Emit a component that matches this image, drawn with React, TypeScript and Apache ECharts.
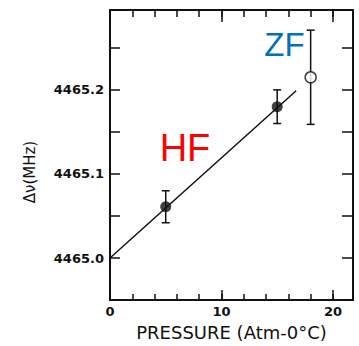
import React, { useEffect, useRef } from "react";
import * as echarts from "echarts";

// Data
const hfPressure = [5, 15];
const hfShift = [4465.061, 4465.18];
const hfError = [0.019, 0.02];

const zfPressure = [18];
const zfShift = [4465.215];
const zfError = [0.056];

const fitPressure = [0, 16.7];
const fitShift = [4465.0, 4465.199];

const xTickLabels = [0, 10, 20];
const yTickLabels = [4465.0, 4465.1, 4465.2];

const X_MIN = 0;
const X_MAX = 21.8;
const Y_MIN = 4464.95;
const Y_MAX = 4465.295;

const tickFont = {
  fontFamily: "DejaVu Sans",
  fontWeight: "bold" as const,
  fontSize: 13,
  color: "#111",
};

export default function App() {
  const ref = useRef<HTMLDivElement>(null);

  useEffect(() => {
    if (!ref.current) return;
    const chart = echarts.init(ref.current, undefined, { renderer: "svg" });

    const errData = [
      ...hfPressure.map((p, i) => [p, hfShift[i], hfError[i]]),
      ...zfPressure.map((p, i) => [p, zfShift[i], zfError[i]]),
    ];

    const showX = (v: number) =>
      xTickLabels.some((t) => Math.abs(t - v) < 1e-6) ? String(Math.round(v)) : "";
    const showY = (v: number) =>
      yTickLabels.some((t) => Math.abs(t - v) < 1e-6) ? v.toFixed(1) : "";

    const lineStyle = { color: "#111", width: 2 };
    const tickStyle = { color: "#111", width: 1.5 };

    chart.setOption({
      animation: false,
      backgroundColor: "#fff",
      grid: { left: 110, right: 6, top: 10, bottom: 38, containLabel: false },
      xAxis: [
        {
          type: "value",
          position: "bottom",
          min: X_MIN,
          max: X_MAX,
          interval: 2,
          axisLine: { show: true, onZero: false, lineStyle },
          axisTick: { show: true, inside: true, length: 6, lineStyle: tickStyle },
          axisLabel: { ...tickFont, margin: 5, formatter: showX, showMaxLabel: false },
          splitLine: { show: false },
          name: "PRESSURE (Atm-0°C)",
          nameLocation: "middle",
          nameGap: 19,
          nameTextStyle: { fontFamily: "DejaVu Sans", fontSize: 18, color: "#111" },
        },
        {
          type: "value",
          position: "bottom",
          min: X_MIN,
          max: X_MAX,
          interval: 10,
          axisLine: { show: false, onZero: false },
          axisTick: { show: true, inside: true, length: 10, lineStyle: tickStyle },
          axisLabel: { show: false },
          splitLine: { show: false },
        },
        {
          type: "value",
          position: "top",
          min: X_MIN,
          max: X_MAX,
          interval: 2,
          axisLine: { show: true, onZero: false, lineStyle },
          axisTick: { show: true, inside: true, length: 7, lineStyle: tickStyle },
          axisLabel: { show: false },
          splitLine: { show: false },
        },
        {
          type: "value",
          position: "top",
          min: X_MIN,
          max: X_MAX,
          interval: 10,
          axisLine: { show: false, onZero: false },
          axisTick: { show: true, inside: true, length: 12, lineStyle: tickStyle },
          axisLabel: { show: false },
          splitLine: { show: false },
        },
      ],
      yAxis: [
        {
          type: "value",
          position: "left",
          min: Y_MIN,
          max: Y_MAX,
          interval: 0.05,
          axisLine: { show: true, onZero: false, lineStyle },
          axisTick: { show: true, inside: true, length: 10, lineStyle: tickStyle },
          axisLabel: { ...tickFont, margin: 6, formatter: showY, showMaxLabel: false, showMinLabel: false },
          splitLine: { show: false },
        },
        {
          type: "value",
          position: "right",
          min: Y_MIN,
          max: Y_MAX,
          interval: 0.05,
          axisLine: { show: true, onZero: false, lineStyle },
          axisTick: { show: true, inside: true, length: 11, lineStyle: tickStyle },
          axisLabel: { show: false },
          splitLine: { show: false },
        },
      ],
      graphic: [
        {
          type: "text",
          x: 30,
          y: 172,
          rotation: Math.PI / 2,
          style: {
            text: "Δν(MHz)",
            fontFamily: "DejaVu Sans",
            fontSize: 15,
            fill: "#111",
            align: "center",
            verticalAlign: "middle",
          },
        },
        {
          type: "text",
          x: 185,
          y: 148,
          style: {
            text: "HF",
            fontFamily: "Liberation Sans",
            fontSize: 38,
            fill: "#ff0000",
            align: "center",
            verticalAlign: "middle",
          },
        },
        {
          type: "text",
          x: 284.5,
          y: 44,
          style: {
            text: "ZF",
            fontFamily: "Liberation Sans",
            fontSize: 33,
            fill: "#0070c0",
            align: "center",
            verticalAlign: "middle",
          },
        },
      ],
      series: [
        {
          type: "line",
          xAxisIndex: 0,
          yAxisIndex: 0,
          data: fitPressure.map((p, i) => [p, fitShift[i]]),
          symbol: "none",
          lineStyle: { color: "#111", width: 1.5 },
          z: 2,
        },
        {
          type: "custom",
          xAxisIndex: 0,
          yAxisIndex: 0,
          data: errData,
          z: 3,
          renderItem: (_params: any, api: any) => {
            const x = api.value(0);
            const y = api.value(1);
            const e = api.value(2);
            const top = api.coord([x, y + e]);
            const bot = api.coord([x, y - e]);
            const hw = 4;
            const style = { stroke: "#111", lineWidth: 1.5 };
            return {
              type: "group",
              children: [
                { type: "line", shape: { x1: top[0], y1: top[1], x2: bot[0], y2: bot[1] }, style },
                { type: "line", shape: { x1: top[0] - hw, y1: top[1], x2: top[0] + hw, y2: top[1] }, style },
                { type: "line", shape: { x1: bot[0] - hw, y1: bot[1], x2: bot[0] + hw, y2: bot[1] }, style },
              ],
            };
          },
        },
        {
          type: "scatter",
          xAxisIndex: 0,
          yAxisIndex: 0,
          data: hfPressure.map((p, i) => [p, hfShift[i]]),
          symbol: "circle",
          symbolSize: 11,
          itemStyle: { color: "#111" },
          z: 4,
        },
        {
          type: "scatter",
          xAxisIndex: 0,
          yAxisIndex: 0,
          data: zfPressure.map((p, i) => [p, zfShift[i]]),
          symbol: "circle",
          symbolSize: 11,
          itemStyle: { color: "#fff", borderColor: "#111", borderWidth: 1.5 },
          z: 4,
        },
      ],
    });

    return () => chart.dispose();
  }, []);

  return (
    <div
      ref={ref}
      style={{ position: "fixed", left: 0, top: 0, width: 359, height: 346, background: "#fff" }}
    />
  );
}
